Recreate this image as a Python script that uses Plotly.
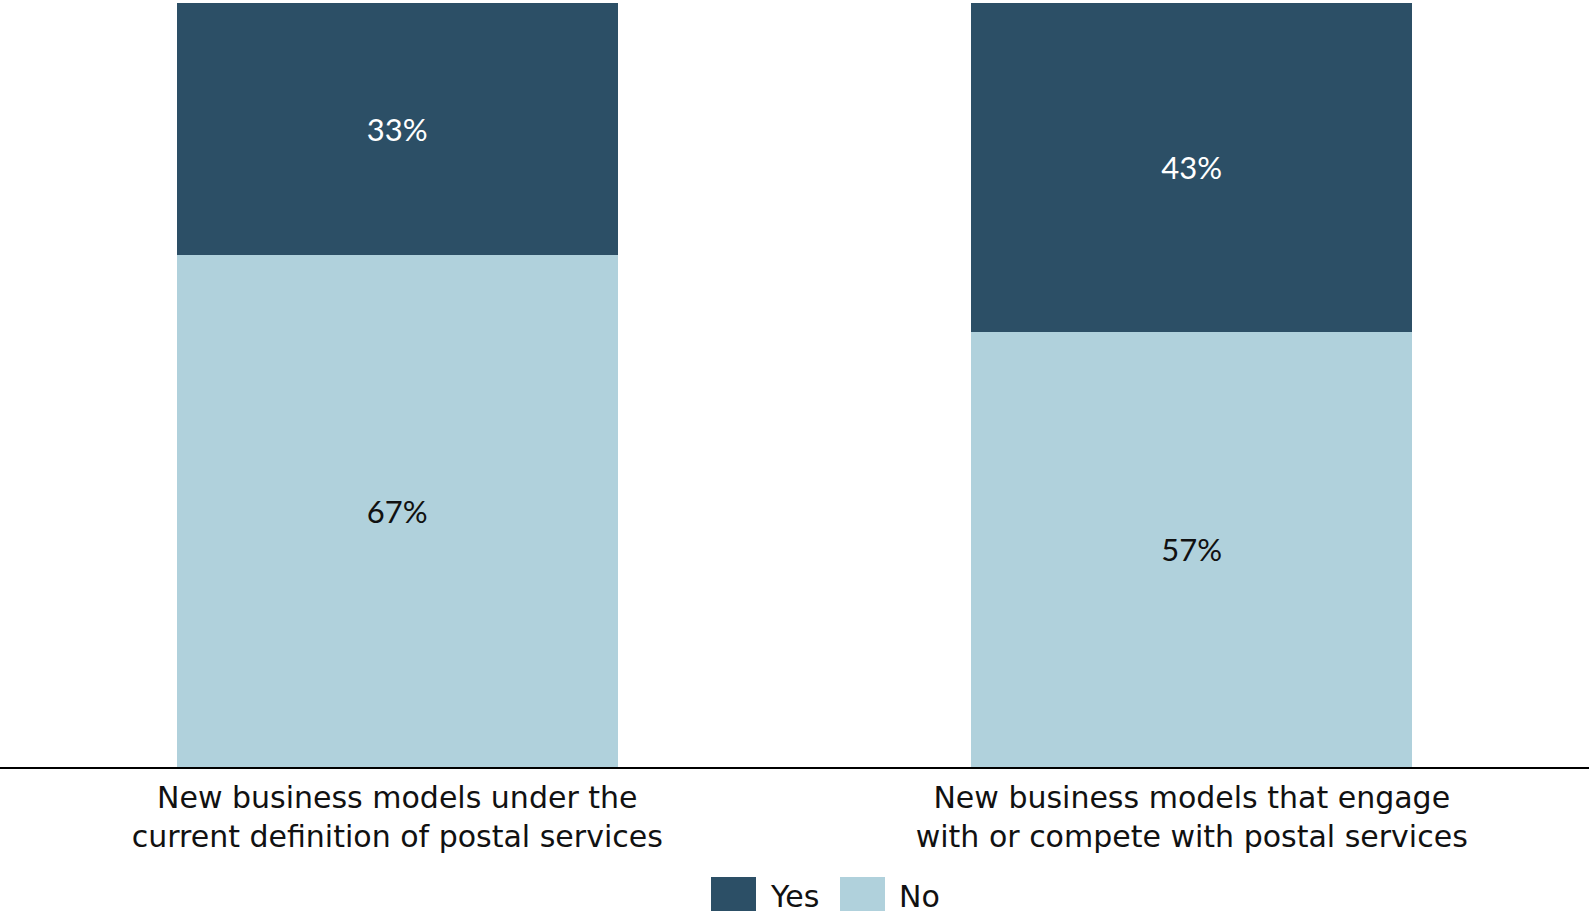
import plotly.graph_objects as go

# Survey responses: share of respondents (%) per business-model question
categories = [
    "New business models under the<br>current definition of postal services",
    "New business models that engage<br>with or compete with postal services",
]
yes_values = [33, 43]
no_values = [67, 57]

series_names = ["Yes", "No"]
colors = {"Yes": "#2c4f66", "No": "#b0d1dc"}

W, H = 1589, 914
M_L, M_R, M_T, M_B = 0, 0, 3, 147
plot_w = W - M_L - M_R
plot_h = H - M_T - M_B


def px_x(px):
    return (px - M_L) / plot_w


def px_y(py):
    return (H - M_B - py) / plot_h


fig = go.Figure()
fig.add_trace(go.Bar(
    x=categories, y=no_values, name="No",
    marker=dict(color=colors["No"], line=dict(width=0)),
    text=[f"{v}%" for v in no_values], textposition="inside",
    insidetextanchor="middle",
    textfont=dict(family="Lato", size=31, color="#111111"),
    showlegend=False,
))
fig.add_trace(go.Bar(
    x=categories, y=yes_values, name="Yes",
    marker=dict(color=colors["Yes"], line=dict(width=0)),
    text=[f"{v}%" for v in yes_values], textposition="inside",
    insidetextanchor="middle",
    textfont=dict(family="Lato", size=31, color="#ffffff"),
    showlegend=False,
))

# Legend drawn as swatches + labels below the category labels
shapes = []
annotations = []
legend_items = [("Yes", 711, 768), ("No", 840, 897)]
for name, sx, tx in legend_items:
    shapes.append(dict(
        type="rect", xref="paper", yref="paper",
        x0=px_x(sx), x1=px_x(sx + 45), y0=px_y(877), y1=px_y(911),
        fillcolor=colors[name], line=dict(width=0),
    ))
    annotations.append(dict(
        text=name, xref="paper", yref="paper",
        x=px_x(tx), y=px_y(896), xanchor="left", yanchor="middle",
        showarrow=False,
        font=dict(family="DejaVu Sans", size=30, color="#111111"),
    ))

fig.update_layout(
    barmode="stack",
    bargap=0.445,
    width=W, height=H,
    margin=dict(l=M_L, r=M_R, t=M_T, b=M_B, pad=0),
    plot_bgcolor="white",
    paper_bgcolor="white",
    uniformtext=dict(mode=False),
    shapes=shapes,
    annotations=annotations,
    xaxis=dict(
        range=[-0.5, 1.5],
        showline=True, linecolor="#000000", linewidth=2,
        showgrid=False, zeroline=False, ticks="",
        ticklabelstandoff=3,
        tickfont=dict(family="DejaVu Sans", size=30, color="#111111"),
        fixedrange=True,
    ),
    yaxis=dict(
        range=[0, 100],
        visible=False, showgrid=False, zeroline=False,
        fixedrange=True,
    ),
)

fig.write_html("out.html", config={"displayModeBar": False})
